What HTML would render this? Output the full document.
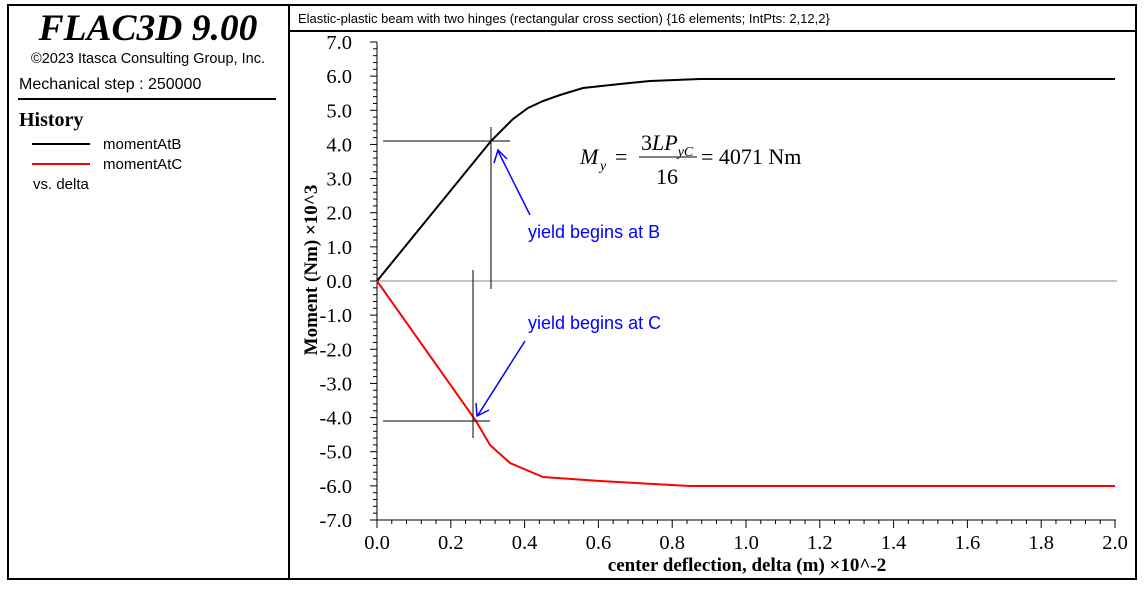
<!DOCTYPE html>
<html><head><meta charset="utf-8"><style>
body{margin:0;background:#fff;width:1144px;height:587px;overflow:hidden}
</style></head><body>
<svg width="1144" height="587" viewBox="0 0 1144 587" xmlns="http://www.w3.org/2000/svg">
<rect x="0" y="0" width="1144" height="587" fill="#fff"/>
<rect x="8" y="5" width="1128" height="574" fill="none" stroke="#000" stroke-width="2"/>
<line x1="289" y1="5" x2="289" y2="579" stroke="#000" stroke-width="2"/>
<line x1="289" y1="31" x2="1136" y2="31" stroke="#000" stroke-width="2"/>
<text x="298" y="23" font-family="Liberation Sans" font-size="13">Elastic-plastic beam with two hinges (rectangular cross section) {16 elements; IntPts: 2,12,2}</text>
<text x="148" y="40" text-anchor="middle" font-family="Liberation Serif" font-size="37.5" font-weight="bold" font-style="italic">FLAC3D 9.00</text>
<text x="148" y="63" text-anchor="middle" font-family="Liberation Sans" font-size="14.5">©2023 Itasca Consulting Group, Inc.</text>
<text x="19" y="89" font-family="Liberation Sans" font-size="16">Mechanical step : 250000</text>
<line x1="18" y1="99" x2="276" y2="99" stroke="#000" stroke-width="2"/>
<text x="19" y="126" font-family="Liberation Serif" font-size="20" font-weight="bold">History</text>
<line x1="32" y1="144" x2="90" y2="144" stroke="#000" stroke-width="2"/>
<text x="103" y="149" font-family="Liberation Sans" font-size="15">momentAtB</text>
<line x1="32" y1="164" x2="90" y2="164" stroke="#f00" stroke-width="2"/>
<text x="103" y="169" font-family="Liberation Sans" font-size="15">momentAtC</text>
<text x="33" y="189" font-family="Liberation Sans" font-size="15">vs. delta</text>
<g id="ax" stroke="#000" stroke-width="1">
<line x1="377" y1="42" x2="377" y2="520"/>
<line x1="377" y1="520" x2="1116" y2="520"/>
</g>
<g id="ticks" stroke="#000" stroke-width="1"></g>
<g id="lbl" font-family="Liberation Serif" font-size="20.5"></g>
<line x1="377" y1="281" x2="1117" y2="281" stroke="#888" stroke-width="1"/>
<polyline fill="none" stroke="#000" stroke-width="2" points="377,281 491,141 513,119 528,108 543,101 560,95 583,88 620,84 650,81 700,79 1115,79"/>
<polyline fill="none" stroke="#f00" stroke-width="2" points="377,281 476,421 490,445 510,463 543,477 600,481 690,486 1115,486"/>
<line x1="383" y1="141" x2="510" y2="141" stroke="#000"/>
<line x1="491" y1="127" x2="491" y2="289" stroke="#000"/>
<line x1="383" y1="421" x2="490" y2="421" stroke="#000"/>
<line x1="473" y1="270" x2="473" y2="438" stroke="#000"/>
<g stroke="#00f" stroke-width="1.5" fill="none">
<line x1="530" y1="215" x2="498" y2="151"/>
<polyline points="494,163 498,150 507,159"/>
<line x1="525" y1="341" x2="478" y2="415"/>
<polyline points="476,403 477,416 489,410"/>
</g>
<text x="528" y="238" font-family="Liberation Sans" font-size="18" fill="#00f">yield begins at B</text>
<text x="528" y="329" font-family="Liberation Sans" font-size="18" fill="#00f">yield begins at C</text>
<g font-family="Liberation Serif" font-size="22">
<text x="580" y="164" font-style="italic">M</text><text x="600" y="170" font-style="italic" font-size="14">y</text>
<text x="615" y="164">=</text>
<text x="641" y="150">3<tspan font-style="italic">LP</tspan><tspan font-style="italic" font-size="14" dy="6">yC</tspan></text>
<line x1="639" y1="157" x2="697" y2="157" stroke="#000" stroke-width="1"/>
<text x="656" y="184">16</text>
<text x="701" y="164">= 4071 Nm</text>
</g>
<text transform="translate(317,270) rotate(-90)" text-anchor="middle" font-family="Liberation Serif" font-size="19" font-weight="bold">Moment (Nm) ×10^3</text>
<text x="747" y="571" text-anchor="middle" font-family="Liberation Serif" font-size="19" font-weight="bold">center deflection, delta (m) ×10^-2</text>
<script>
var t=document.getElementById('ticks'),l=document.getElementById('lbl'),ns='http://www.w3.org/2000/svg';
function ln(a,b,c,d){var e=document.createElementNS(ns,'line');e.setAttribute('x1',a);e.setAttribute('y1',b);e.setAttribute('x2',c);e.setAttribute('y2',d);t.appendChild(e);}
function tx(x,y,s,a){var e=document.createElementNS(ns,'text');e.setAttribute('x',x);e.setAttribute('y',y);e.setAttribute('text-anchor',a);e.textContent=s;l.appendChild(e);}
for(var i=0;i<=70;i++){var y=42+i*478/70;var maj=i%5==0;ln(377,y,maj?370:373,y);if(maj){var v=7-i/5;tx(352,y+7,(v==0?'0.0':v.toFixed(1)),'end');}}
for(var i=0;i<=50;i++){var x=377+i*738/50;var maj=i%5==0;ln(x,520,x,maj?528:524);if(maj)tx(x,549,(i/25).toFixed(1),'middle');}
</script>
</svg>
</body></html>
